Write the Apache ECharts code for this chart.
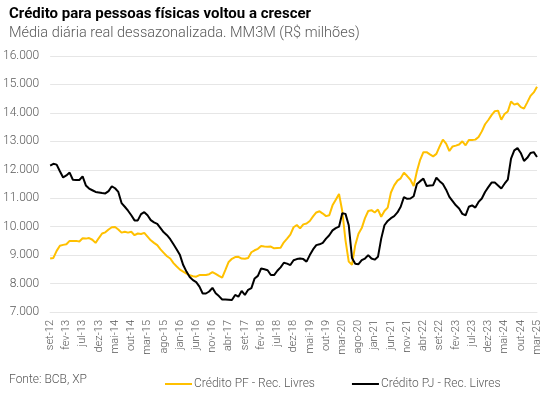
<!DOCTYPE html>
<html>
<head>
<meta charset="utf-8">
<script src="https://cdn.jsdelivr.net/npm/echarts@6/dist/echarts.min.js"></script>
<style>
  html, body { margin: 0; padding: 0; background: #fff; }
  #chart { width: 551px; height: 399px; }
</style>
</head>
<body>
<div id="chart"></div>
<script>
// meses em português, série começa em set-12
var monthNames = ['jan', 'fev', 'mar', 'abr', 'mai', 'jun', 'jul', 'ago', 'set', 'out', 'nov', 'dez'];
var startYear = 2012, startMonth = 8, nMonths = 151;

// Crédito PF - Rec. Livres (R$ milhões)
var creditoPF = [
  8880, 8900, 9150, 9330, 9360, 9380, 9500, 9500, 9500, 9480,
  9590, 9580, 9600, 9540, 9430, 9600, 9760, 9800, 9900, 9980,
  9990, 9900, 9790, 9820, 9790, 9820, 9700, 9760, 9740, 9780,
  9650, 9520, 9430, 9350, 9200, 9080, 8960, 8880, 8720, 8600,
  8490, 8420, 8350, 8290, 8260, 8240, 8300, 8300, 8300, 8330,
  8400, 8340, 8270, 8210, 8480, 8760, 8870, 8930, 8940, 8880,
  8870, 8900, 9100, 9170, 9220, 9320, 9300, 9290, 9300, 9240,
  9250, 9260, 9450, 9580, 9720, 9980, 10060, 9940, 10080, 10110,
  10200, 10360, 10500, 10540, 10460, 10370, 10400, 10750, 10950, 11150,
  10550, 9520, 8770, 8660, 9350, 9750, 9950, 10300, 10550, 10580,
  10500, 10600, 10350, 10550, 10670, 11200, 11450, 11620, 11700, 11900,
  11780, 11650, 11430, 11950, 12350, 12620, 12620, 12540, 12470, 12560,
  12820, 13060, 12920, 12660, 12820, 12850, 12890, 13000, 12860, 13050,
  13050, 13060, 13150, 13350, 13600, 13750, 13920, 14060, 14080, 13760,
  13960, 14050, 14400, 14290, 14330, 14200, 14150, 14370, 14600, 14720,
  14920
];

// Crédito PJ - Rec. Livres (R$ milhões)
var creditoPJ = [
  12150, 12210, 12180, 11950, 11730, 11800, 11900, 11650, 11640, 11640,
  11770, 11450, 11340, 11280, 11220, 11200, 11180, 11170, 11250, 11420,
  11350, 11220, 10830, 10700, 10560, 10400, 10220, 10220, 10440, 10510,
  10400, 10230, 10150, 10100, 9950, 9800, 9700, 9560, 9380, 9200,
  9000, 8650, 8420, 8230, 8120, 8050, 7890, 7650, 7650, 7720,
  7850, 7660, 7560, 7440, 7440, 7430, 7420, 7600, 7540, 7740,
  7600, 7780, 7840, 8180, 8270, 8530, 8500, 8470, 8300, 8300,
  8450, 8570, 8730, 8700, 8650, 8820, 8860, 8880, 8860, 8770,
  9000, 9200, 9350, 9380, 9430, 9580, 9700, 9870, 9950, 10000,
  10470, 10450, 10050, 8900, 8700, 8680, 8820, 8880, 9000, 8880,
  8840, 8940, 9580, 10050, 10200, 10300, 10370, 10500, 10700, 11040,
  10980, 10990, 11070, 11500, 11600, 11690, 11430, 11450, 11460, 11720,
  11600, 11500, 11300, 11050, 10900, 10750, 10640, 10450, 10400, 10700,
  10750, 10670, 10870, 10990, 11220, 11390, 11550, 11550, 11450, 11340,
  11510, 11650, 12390, 12680, 12760, 12590, 12310, 12420, 12590, 12620,
  12450
];

var categorias = [];
for (var i = 0; i < nMonths; i++) {
  var m = (startMonth + i) % 12;
  var y = startYear + Math.floor((startMonth + i) / 12);
  categorias.push(monthNames[m] + '-' + String(y).slice(2));
}

var fonte = 'Roboto, "Noto Sans", sans-serif';
var cinza = '#595959';

var myChart = echarts.init(document.getElementById('chart'));
var option = {
  animation: false,
  title: {
    text: 'Crédito para pessoas físicas voltou a crescer',
    subtext: 'Média diária real dessazonalizada. MM3M (R$ milhões)',
    left: 4,
    top: 2,
    itemGap: 4,
    textStyle: { fontFamily: fonte, fontSize: 15, fontWeight: 'bold', color: '#000' },
    subtextStyle: { fontFamily: fonte, fontSize: 14.5, fontWeight: 300, color: cinza }
  },
  graphic: [{
    type: 'text',
    left: 9,
    top: 374,
    style: { text: 'Fonte: BCB, XP', fontFamily: fonte, fontSize: 12, fontWeight: 300, fill: cinza }
  }],
  legend: {
    left: 160,
    top: 373,
    itemWidth: 27,
    itemHeight: 2,
    itemGap: 37,
    icon: 'rect',
    textStyle: { fontFamily: fonte, fontSize: 12, fontWeight: 300, color: cinza, padding: [0, 0, 0, -3] },
    data: ['Crédito PF - Rec. Livres', 'Crédito PJ - Rec. Livres']
  },
  grid: {
    left: 48,
    right: 14,
    top: 56,
    bottom: 87,
    containLabel: false
  },
  xAxis: {
    type: 'category',
    boundaryGap: false,
    data: categorias,
    axisLine: { show: true, lineStyle: { color: '#e6e6e6' } },
    axisTick: { show: false },
    axisLabel: {
      interval: 4,
      rotate: 90,
      margin: 8,
      fontFamily: fonte,
      fontSize: 11,
      fontWeight: 300,
      color: cinza
    }
  },
  yAxis: {
    type: 'value',
    min: 7000,
    max: 16000,
    interval: 1000,
    axisLine: { show: false },
    axisTick: { show: false },
    splitLine: { lineStyle: { color: '#e6e6e6' } },
    axisLabel: {
      margin: 11,
      fontFamily: fonte,
      fontSize: 12,
      fontWeight: 300,
      color: cinza,
      formatter: function (v) { return v.toLocaleString('pt-BR').replace(/,/g, '.'); }
    }
  },
  series: [
    {
      name: 'Crédito PF - Rec. Livres',
      type: 'line',
      data: creditoPF,
      showSymbol: false,
      lineStyle: { width: 2, color: '#FFC000' },
      itemStyle: { color: '#FFC000' }
    },
    {
      name: 'Crédito PJ - Rec. Livres',
      type: 'line',
      data: creditoPJ,
      showSymbol: false,
      lineStyle: { width: 2, color: '#000000' },
      itemStyle: { color: '#000000' }
    }
  ]
};
myChart.setOption(option);
</script>
</body>
</html>
